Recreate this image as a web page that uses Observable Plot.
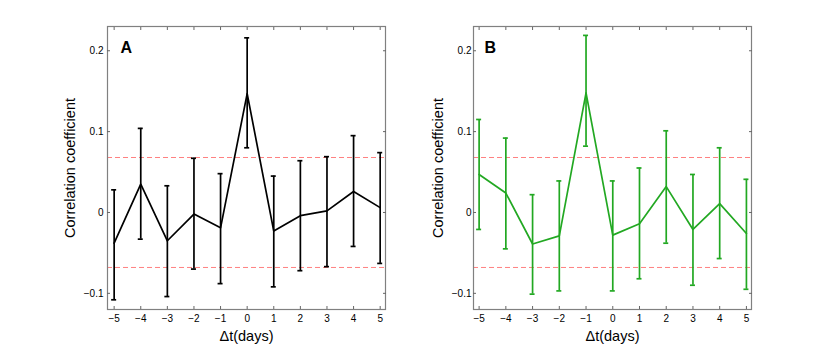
<!DOCTYPE html>
<html><head><meta charset="utf-8">
<script src="https://cdn.jsdelivr.net/npm/d3@7"></script>
<script src="https://cdn.jsdelivr.net/npm/@observablehq/plot@0.6"></script>
<style>
html,body{margin:0;padding:0;background:#fff;}
#wrap{position:relative;width:830px;height:348px;overflow:hidden;background:#fff;}
#wrap svg{position:absolute;top:0;}
#wrap g[aria-label$="axis label"]{font-size:14.5px;}
</style></head><body><div id="wrap"></div>
<script>
const lags = [-5, -4, -3, -2, -1, 0, 1, 2, 3, 4, 5];

const meanA  = [-0.038, 0.035, -0.035, -0.002, -0.019, 0.147, -0.023, -0.004, 0.002, 0.026, 0.006];
const lowerA = [-0.108, -0.033, -0.104, -0.070, -0.088, 0.080, -0.092, -0.072, -0.067, -0.042, -0.063];
const upperA = [0.028, 0.104, 0.033, 0.067, 0.048, 0.216, 0.045, 0.064, 0.069, 0.095, 0.074];

const meanB  = [0.047, 0.024, -0.039, -0.029, 0.148, -0.028, -0.014, 0.032, -0.021, 0.011, -0.026];
const lowerB = [-0.021, -0.045, -0.101, -0.097, 0.082, -0.097, -0.082, -0.038, -0.090, -0.057, -0.095];
const upperB = [0.115, 0.092, 0.022, 0.039, 0.219, 0.039, 0.055, 0.101, 0.047, 0.080, 0.041];

const threshold = [0.068, -0.068];
const xTicks = [-5, -4, -3, -2, -1, 0, 1, 2, 3, 4, 5];
const yTicks = [-0.1, 0, 0.1, 0.2];
const panelLetters = ["A", "B"];
const seriesColors = ["#000000", "#22a822"];
const yLabel = "Correlation coefficient";
const xLabel = "Δt(days)";

const fmtY = d => d === 0 ? "0" : d3.format(".1f")(d);
const fmtX = d3.format("d");

function panel(mean, lower, upper, letter, color, o) {
  const data = lags.map((x, i) => ({x, mean: mean[i], lower: lower[i], upper: upper[i]}));
  const sw = 1.7;
  return Plot.plot({
    width: 415, height: 348,
    marginLeft: o.ml, marginRight: o.mr, marginTop: 26, marginBottom: 39,
    style: {fontFamily: "'Liberation Sans', Arial, sans-serif", fontSize: "10px", background: "transparent", color: "#000"},
    x: {domain: o.xd},
    y: {domain: [-0.12, 0.23]},
    marks: [
      Plot.ruleY(threshold, {y: d => d, stroke: "#ff8080", strokeDasharray: "5,3", strokeWidth: 1}),
      Plot.ruleX(data, {x: "x", y1: "lower", y2: "upper", stroke: color, strokeWidth: sw}),
      Plot.ruleY(data, {y: "upper", x1: "x", x2: "x", insetLeft: -2.5, insetRight: -2.5, stroke: color, strokeWidth: sw}),
      Plot.ruleY(data, {y: "lower", x1: "x", x2: "x", insetLeft: -2.5, insetRight: -2.5, stroke: color, strokeWidth: sw}),
      Plot.line(data, {x: "x", y: "mean", stroke: color, strokeWidth: sw}),
      Plot.frame({stroke: "#808080", strokeWidth: 1.2}),
      Plot.axisX({ticks: xTicks, tickSize: -3, tickPadding: 8, tickFormat: fmtX, label: xLabel, labelAnchor: "center", labelArrow: "none", labelOffset: 31, stroke: "#666"}),
      Plot.axisX({anchor: "top", ticks: xTicks, tickSize: -3, tickFormat: () => "", label: null, stroke: "#666"}),
      Plot.axisY({ticks: yTicks, tickSize: -3, tickPadding: o.tp, tickFormat: fmtY, label: yLabel, labelAnchor: "center", labelArrow: "none", labelOffset: o.lo, stroke: "#666"}),
      Plot.axisY({anchor: "right", ticks: yTicks, tickSize: -3, tickFormat: () => "", label: null, stroke: "#666"}),
      Plot.text([letter], {text: d => d, frameAnchor: "top-left", dx: o.ldx, dy: 15, textAnchor: "start", lineAnchor: "top", fontWeight: "bold", fontSize: 16, fill: "#000"})
    ]
  });
}

const wrap = document.getElementById("wrap");
const a = panel(meanA, lowerA, upperA, panelLetters[0], seriesColors[0], {ml: 107, mr: 30, xd: [-5.25, 5.2], tp: 7, lo: 43, ldx: 13});
a.style.left = "0px";
const b = panel(meanB, lowerB, upperB, panelLetters[1], seriesColors[1], {ml: 58, mr: 79, xd: [-5.21, 5.19], tp: 5, lo: 41, ldx: 11});
b.style.left = "415px";
wrap.appendChild(a);
wrap.appendChild(b);
</script>
</body></html>
